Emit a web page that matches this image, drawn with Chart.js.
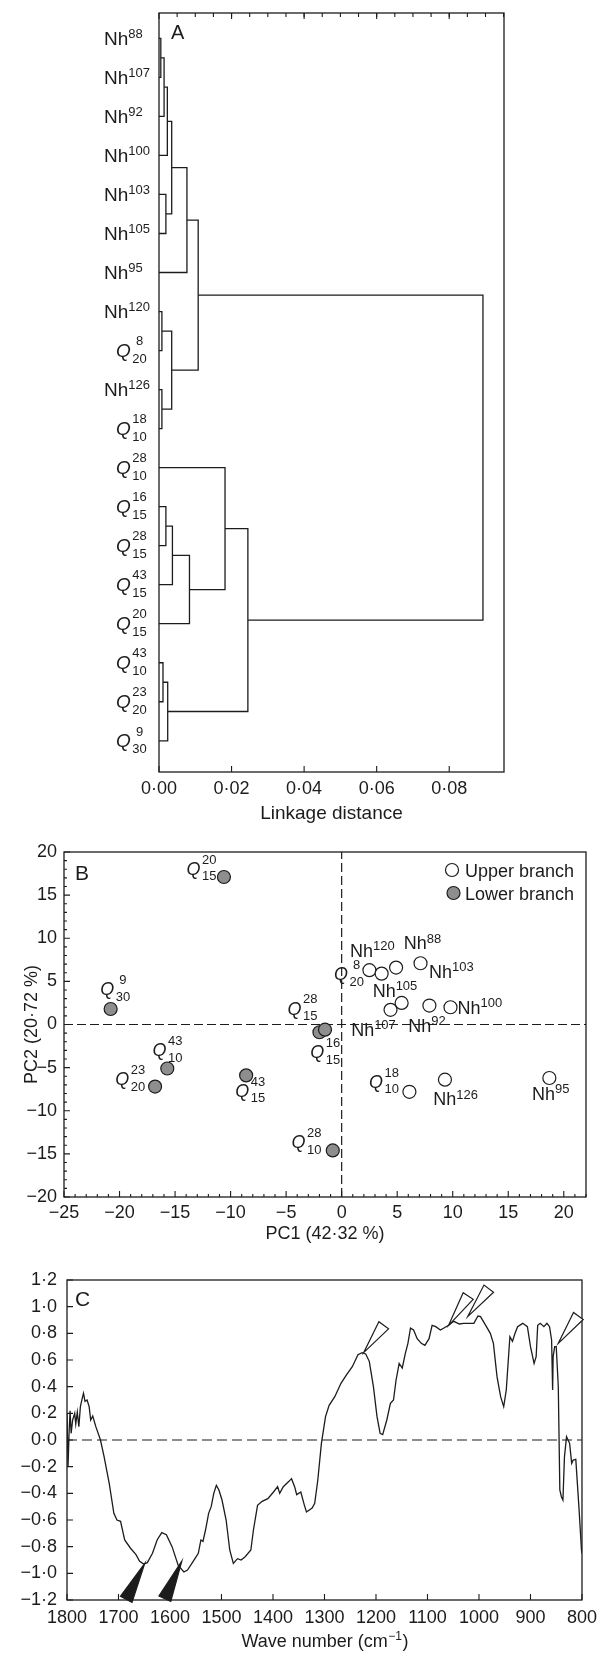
<!DOCTYPE html>
<html>
<head>
<meta charset="utf-8">
<title>Cluster tree, PCA scores and PC1 loadings</title>
<script src="https://cdn.jsdelivr.net/npm/chart.js@4.4.1/dist/chart.umd.min.js"></script>
<style>
  html, body { margin: 0; padding: 0; background: #fff; }
  #page { position: relative; width: 604px; height: 1659px; overflow: hidden; }
  canvas { position: absolute; left: 0; }
</style>
</head>
<body>
<div id="page">
  <canvas id="chartA" width="604" height="830" style="top:0"></canvas>
  <canvas id="chartB" width="604" height="420" style="top:830px"></canvas>
  <canvas id="chartC" width="604" height="409" style="top:1250px"></canvas>
</div>
<script>
var FONT = '"Liberation Sans", Arial, Helvetica, sans-serif';
var INK = '#1c1c1c';

// ---- A: tree diagram ----
var leafLabels = ['Nh^88', 'Nh^107', 'Nh^92', 'Nh^100', 'Nh^103', 'Nh^105', 'Nh^95', 'Nh^120', 'Q_20^8', 'Nh^126',
                  'Q_10^18', 'Q_10^28', 'Q_15^16', 'Q_15^28', 'Q_15^43', 'Q_15^20', 'Q_10^43', 'Q_20^23', 'Q_30^9'];
// joins: clusters numbered after the 19 leaves (19, 20, ...)
var joinLeft   = [0, 19, 20, 4, 21, 23, 7, 9, 25, 24, 12, 29, 30, 11, 16, 33, 32, 28];
var joinRight  = [1, 2, 3, 5, 22, 6, 8, 10, 26, 27, 13, 14, 15, 31, 17, 18, 34, 35];
var joinHeight = [0.0005, 0.0014, 0.0023, 0.0019, 0.0035, 0.0077, 0.0008, 0.0008, 0.0035, 0.0108,
                  0.0019, 0.0037, 0.0084, 0.0182, 0.0011, 0.0024, 0.0245, 0.0893];
var linkTicks = [0, 0.02, 0.04, 0.06, 0.08];

// ---- B: PCA scores ----
var upperNames = ['Q_20^8', 'Nh^120', 'Nh^88', 'Nh^103', 'Nh^105', 'Nh^107', 'Nh^92', 'Nh^100', 'Q_10^18', 'Nh^126', 'Nh^95'];
var upperPC1 = [2.5, 3.6, 4.9, 7.1, 5.4, 4.4, 7.9, 9.8, 6.1, 9.3, 18.7];
var upperPC2 = [6.3, 5.9, 6.6, 7.1, 2.5, 1.7, 2.2, 2.0, -7.8, -6.4, -6.2];
var lowerNames = ['Q_15^20', 'Q_30^9', 'Q_10^43', 'Q_20^23', 'Q_15^43', 'Q_15^28', 'Q_15^16', 'Q_10^28'];
var lowerPC1 = [-10.6, -20.8, -15.7, -16.8, -8.6, -2.0, -1.5, -0.8];
var lowerPC2 = [17.1, 1.8, -5.1, -7.2, -5.9, -0.9, -0.6, -14.6];
var pc1Ticks = [-25, -20, -15, -10, -5, 0, 5, 10, 15, 20];
var pc2Ticks = [-20, -15, -10, -5, 0, 5, 10, 15, 20];

// label placement next to each point (px from the point: left edge, baseline)
var upperLabelDx = [-35.5, -31.7, 7.7, 8.5, -29, -39.4, -21.2, 7, -40.5, -11.6, -17.4];
var upperLabelDy = [10, -17, -18.3, 14.7, -6.3, 25.7, 26.3, 6.3, -3.7, 25.3, 22];
var lowerLabelDx = [-37.5, -10.4, -14.7, -39.8, -10.8, -32, -14.7, -41.3];
var lowerLabelDy = [-2, -13.7, -12.3, -1.3, 21.3, -17.7, 28.7, -2];

// ---- C: PC1 loadings ----
var waveNumbers = [1800, 1798, 1796, 1794, 1792, 1789, 1785, 1783, 1780, 1777,
  1774, 1770, 1768, 1765, 1761, 1757, 1754, 1750, 1744, 1735,
  1728, 1718, 1709, 1703, 1696, 1688, 1677, 1666, 1659, 1651,
  1644, 1634, 1625, 1616, 1607, 1596, 1584, 1573, 1566, 1555,
  1545, 1540, 1536, 1531, 1525, 1520, 1515, 1510, 1505, 1499,
  1491, 1484, 1477, 1469, 1462, 1454, 1443, 1438, 1430, 1421,
  1410, 1399, 1391, 1387, 1380, 1369, 1364, 1358, 1354, 1346,
  1339, 1335, 1324, 1319, 1313, 1306, 1298, 1291, 1280, 1268,
  1257, 1246, 1235, 1227, 1220, 1213, 1205, 1198, 1192, 1187,
  1179, 1172, 1166, 1161, 1155, 1149, 1143, 1138, 1133, 1127,
  1120, 1112, 1105, 1097, 1091, 1084, 1075, 1068, 1059, 1049,
  1038, 1030, 1019, 1010, 1002, 997, 987, 978, 972, 965,
  958, 952, 947, 940, 935, 930, 925, 915, 906, 900,
  893, 889, 886, 881, 874, 868, 863, 859, 857, 856,
  853, 850, 846, 843, 840, 837, 834, 830, 824, 820,
  817, 812, 806, 801, 800];
var loadings = [0.2, -0.2, 0.05, 0.22, 0.05, 0.15, 0.2, 0.12, 0.21, 0.1,
  0.25, 0.32, 0.35, 0.29, 0.3, 0.25, 0.15, 0.18, 0.1, 0.0,
  -0.125, -0.325, -0.55, -0.6, -0.61, -0.75, -0.81, -0.86, -0.91, -0.93,
  -0.92, -0.85, -0.75, -0.695, -0.71, -0.8, -0.94, -0.99, -0.975, -0.91,
  -0.85, -0.75, -0.76, -0.675, -0.55, -0.5, -0.4, -0.34, -0.375, -0.45,
  -0.6, -0.825, -0.925, -0.89, -0.9, -0.875, -0.825, -0.675, -0.49, -0.46,
  -0.44, -0.39, -0.35, -0.4, -0.35, -0.31, -0.29, -0.35, -0.41, -0.39,
  -0.49, -0.54, -0.51, -0.475, -0.3, -0.025, 0.175, 0.26, 0.325, 0.425,
  0.49, 0.55, 0.64, 0.655, 0.645, 0.59, 0.4, 0.175, 0.05, 0.04,
  0.15, 0.275, 0.3, 0.45, 0.575, 0.54, 0.65, 0.725, 0.84, 0.825,
  0.76, 0.725, 0.71, 0.76, 0.86, 0.85, 0.825, 0.84, 0.86, 0.89,
  0.87, 0.875, 0.875, 0.875, 0.93, 0.925, 0.86, 0.8, 0.725, 0.475,
  0.325, 0.25, 0.375, 0.775, 0.74, 0.8, 0.85, 0.875, 0.85, 0.7,
  0.575, 0.625, 0.86, 0.875, 0.85, 0.875, 0.85, 0.75, 0.375, 0.625,
  0.7, 0.7, 0.4, -0.375, -0.425, -0.45, -0.125, 0.025, -0.025, -0.175,
  -0.15, -0.145, -0.5, -0.825, -0.85];
var waveTicks = [1800, 1700, 1600, 1500, 1400, 1300, 1200, 1100, 1000, 900, 800];
var loadTicks = [-1.2, -1, -0.8, -0.6, -0.4, -0.2, 0, 0.2, 0.4, 0.6, 0.8, 1, 1.2];
// arrowheads: [wave number, loading] of tip and of tail
var openArrowTip  = [[1224, 0.655], [1059, 0.86], [1022, 0.925], [846, 0.725]];
var openArrowTail = [[1185, 0.86], [1021, 1.08], [981, 1.135], [807, 0.93]];
var solidArrowTip  = [[1649, -0.925], [1577, -0.908]];
var solidArrowTail = [[1685, -1.195], [1610, -1.19]];

Chart.defaults.font.family = FONT;
Chart.defaults.color = INK;
Chart.defaults.animation = false;
Chart.defaults.plugins.legend.display = false;
Chart.defaults.plugins.tooltip.enabled = false;

function dotted(v, d) {
  var s = Math.abs(v).toFixed(d).replace('.', '\u00B7');
  return v < 0 ? '\u2212' + s : s;
}
function setTicks(values) {
  return function (s) { s.ticks = values.map(function (v) { return { value: v }; }); };
}
function fixW(w) { return function (s) { s.width = w; }; }
function fixH(h) { return function (s) { s.height = h; }; }

function axisOpts(extra) {
  var o = {
    type: 'linear',
    grid: { display: false, drawTicks: false },
    border: { display: false },
    ticks: { font: { size: 18 }, color: INK, autoSkip: false, maxRotation: 0 }
  };
  for (var k in extra) {
    if (k === 'ticks') { for (var t in extra.ticks) o.ticks[t] = extra.ticks[t]; }
    else o[k] = extra[k];
  }
  return o;
}

// "Nh^88" -> Nh with superscript, "Q_20^8" -> italic Q with stacked indices
function drawName(ctx, name, x, y, size, small) {
  var m = /^([A-Za-z]+)(?:_(\d+))?(?:\^(\d+))?$/.exec(name);
  var base = m[1], sub = m[2], sup = m[3];
  var italic = base === 'Q';
  ctx.fillStyle = INK;
  ctx.textBaseline = 'alphabetic';
  ctx.textAlign = 'left';
  ctx.font = (italic ? 'italic ' : '') + size + 'px ' + FONT;
  ctx.fillText(base, x, y);
  var x2 = x + ctx.measureText(base).width + (italic ? 1.5 : 0);
  ctx.font = small + 'px ' + FONT;
  if (sub) {
    var w = Math.max(ctx.measureText(sub).width, ctx.measureText(sup).width);
    ctx.textAlign = 'center';
    ctx.fillText(sup, x2 + w / 2, y - size * 0.62);
    ctx.fillText(sub, x2 + w / 2, y + size * 0.3);
  } else {
    ctx.fillText(sup, x2, y - size * 0.36);
  }
}

function tickMarks(ctx, chart, scale, values, edge, len) {
  var a = chart.chartArea;
  ctx.beginPath();
  values.forEach(function (v) {
    var p = scale.getPixelForValue(v);
    if (edge === 'bottom') { ctx.moveTo(p, a.bottom); ctx.lineTo(p, a.bottom - len); }
    if (edge === 'top') { ctx.moveTo(p, a.top); ctx.lineTo(p, a.top + len); }
    if (edge === 'left') { ctx.moveTo(a.left, p); ctx.lineTo(a.left + len, p); }
  });
  ctx.stroke();
}

function frame(ctx, chart) {
  var a = chart.chartArea;
  ctx.strokeStyle = INK;
  ctx.lineWidth = 1.3;
  ctx.strokeRect(a.left, a.top, a.right - a.left, a.bottom - a.top);
}

function plainText(ctx, str, x, y, size, align) {
  ctx.fillStyle = INK;
  ctx.font = size + 'px ' + FONT;
  ctx.textAlign = align || 'center';
  ctx.textBaseline = 'alphabetic';
  ctx.fillText(str, x, y);
}

// ---------- A ----------
var nodePos = [], nodeHeight = [];
for (var i = 0; i < leafLabels.length; i++) { nodePos.push(i); nodeHeight.push(0); }
var treeSets = [];
joinLeft.forEach(function (l, k) {
  var r = joinRight[k], h = joinHeight[k];
  treeSets.push({
    data: [{ x: nodeHeight[l], y: nodePos[l] }, { x: h, y: nodePos[l] },
           { x: h, y: nodePos[r] }, { x: nodeHeight[r], y: nodePos[r] }],
    showLine: true, pointRadius: 0, borderColor: INK, borderWidth: 1.3, fill: false
  });
  nodePos.push((nodePos[l] + nodePos[r]) / 2);
  nodeHeight.push(h);
});

new Chart(document.getElementById('chartA'), {
  type: 'scatter',
  data: { datasets: treeSets },
  options: {
    responsive: false,
    layout: { padding: { left: 159, right: 100, top: 13, bottom: 28 } },
    scales: {
      x: axisOpts({ min: 0, max: 0.0951, afterBuildTicks: setTicks(linkTicks), afterFit: fixH(30),
        ticks: { padding: 6, callback: function (v) { return dotted(v, 2); } } }),
      y: { type: 'linear', display: false, reverse: true, min: -0.65, max: 18.8 }
    }
  },
  plugins: [{
    id: 'panelA',
    afterDraw: function (chart) {
      var ctx = chart.ctx, a = chart.chartArea, xs = chart.scales.x, ys = chart.scales.y;
      ctx.save();
      frame(ctx, chart);
      ctx.lineWidth = 1.1;
      tickMarks(ctx, chart, xs, linkTicks, 'bottom', 6);
      var minor = [];
      for (var j = 1; j <= 19; j++) minor.push(j * 0.005);
      tickMarks(ctx, chart, xs, minor, 'top', 4);
      tickMarks(ctx, chart, xs, linkTicks, 'top', 6);
      leafLabels.forEach(function (name, j) {
        var py = ys.getPixelForValue(j);
        drawName(ctx, name, name.charAt(0) === 'Q' ? 116 : 104, py + 6.5, 19, 13);
      });
      plainText(ctx, 'A', 171, 38.5, 20, 'left');
      plainText(ctx, 'Linkage distance', (a.left + a.right) / 2, 819, 19);
      ctx.restore();
    }
  }]
});

// ---------- B ----------
function points(xs, ys) { return xs.map(function (x, j) { return { x: x, y: ys[j] }; }); }

new Chart(document.getElementById('chartB'), {
  type: 'scatter',
  data: {
    datasets: [
      { label: 'Upper branch', data: points(upperPC1, upperPC2), pointRadius: 6.5, borderWidth: 1.2,
        borderColor: INK, backgroundColor: '#ffffff', order: 1 },
      { label: 'Lower branch', data: points(lowerPC1, lowerPC2), pointRadius: 6.5, borderWidth: 1.2,
        borderColor: INK, backgroundColor: '#8e8e8e', order: 1 },
      { data: [{ x: 0, y: -20 }, { x: 0, y: 20 }], showLine: true, pointRadius: 0, borderColor: INK,
        borderWidth: 1.2, borderDash: [9, 4], order: 3 },
      { data: [{ x: -25, y: 0 }, { x: 22, y: 0 }], showLine: true, pointRadius: 0, borderColor: INK,
        borderWidth: 1.2, borderDash: [9, 4], order: 3 }
    ]
  },
  options: {
    responsive: false,
    layout: { padding: { left: 8, right: 18, top: 22, bottom: 23 } },
    scales: {
      x: axisOpts({ min: -25, max: 22, afterBuildTicks: setTicks(pc1Ticks), afterFit: fixH(30),
        ticks: { padding: 5, callback: function (v) { return dotted(v, 0); } } }),
      y: axisOpts({ min: -20, max: 20, afterBuildTicks: setTicks(pc2Ticks), afterFit: fixW(56),
        ticks: { padding: 7, callback: function (v) { return dotted(v, 0); } } })
    }
  },
  plugins: [{
    id: 'panelB',
    afterDraw: function (chart) {
      var ctx = chart.ctx, a = chart.chartArea, xs = chart.scales.x, ys = chart.scales.y;
      ctx.save();
      frame(ctx, chart);
      ctx.lineWidth = 1.1;
      var minorX = [], minorY = [];
      for (var v = -24; v <= 22; v++) if (v % 5) minorX.push(v);
      for (v = -19; v <= 19; v++) if (v % 5) minorY.push(v);
      tickMarks(ctx, chart, xs, minorX, 'bottom', 3);
      tickMarks(ctx, chart, xs, pc1Ticks, 'bottom', 6);
      tickMarks(ctx, chart, ys, minorY, 'left', 3);
      tickMarks(ctx, chart, ys, pc2Ticks, 'left', 6);

      upperNames.forEach(function (n, j) {
        drawName(ctx, n, xs.getPixelForValue(upperPC1[j]) + upperLabelDx[j],
          ys.getPixelForValue(upperPC2[j]) + upperLabelDy[j], 18, 13);
      });
      lowerNames.forEach(function (n, j) {
        drawName(ctx, n, xs.getPixelForValue(lowerPC1[j]) + lowerLabelDx[j],
          ys.getPixelForValue(lowerPC2[j]) + lowerLabelDy[j], 18, 13);
      });

      // legend
      [0, 1].forEach(function (j) {
        var ds = chart.data.datasets[j], cy = 40 + j * 23;
        ctx.beginPath();
        ctx.arc(452 + j * 1.5, cy, 6.5, 0, Math.PI * 2);
        ctx.fillStyle = ds.backgroundColor;
        ctx.fill();
        ctx.lineWidth = 1.2;
        ctx.strokeStyle = INK;
        ctx.stroke();
        plainText(ctx, ds.label, 465, cy + 6.5, 18, 'left');
      });

      plainText(ctx, 'B', 75, 50, 21, 'left');
      plainText(ctx, 'PC1 (42\u00B732 %)', (a.left + a.right) / 2, 409, 18);
      ctx.translate(37, ys.getPixelForValue(0));
      ctx.rotate(-Math.PI / 2);
      plainText(ctx, 'PC2 (20\u00B772 %)', 0, 0, 18);
      ctx.restore();
    }
  }]
});

// ---------- C ----------
function drawArrow(ctx, xs, ys, tip, tail, width, fill) {
  var tx = xs.getPixelForValue(tip[0]), ty = ys.getPixelForValue(tip[1]);
  var bx = xs.getPixelForValue(tail[0]), by = ys.getPixelForValue(tail[1]);
  var dx = bx - tx, dy = by - ty, len = Math.sqrt(dx * dx + dy * dy);
  var nx = -dy / len * width / 2, ny = dx / len * width / 2;
  ctx.beginPath();
  ctx.moveTo(tx, ty);
  ctx.lineTo(bx + nx, by + ny);
  ctx.lineTo(bx - nx, by - ny);
  ctx.closePath();
  ctx.fillStyle = fill;
  ctx.fill();
  ctx.stroke();
}

new Chart(document.getElementById('chartC'), {
  type: 'scatter',
  data: {
    datasets: [
      { data: points(waveNumbers, loadings), showLine: true, pointRadius: 0, borderColor: INK,
        borderWidth: 1.3, order: 1 },
      { data: [{ x: 1800, y: 0 }, { x: 800, y: 0 }], showLine: true, pointRadius: 0, borderColor: INK,
        borderWidth: 1.2, borderDash: [10, 5], order: 2 }
    ]
  },
  options: {
    responsive: false,
    layout: { padding: { left: 7, right: 20, top: 30, bottom: 29 } },
    scales: {
      x: axisOpts({ min: 800, max: 1800, reverse: true, afterBuildTicks: setTicks(waveTicks), afterFit: fixH(30),
        ticks: { padding: 7, callback: function (v) { return String(v); } } }),
      y: axisOpts({ min: -1.2, max: 1.2, afterBuildTicks: setTicks(loadTicks), afterFit: fixW(60),
        ticks: { padding: 10, callback: function (v) { return dotted(v, 1); } } })
    }
  },
  plugins: [{
    id: 'panelC',
    afterDraw: function (chart) {
      var ctx = chart.ctx, a = chart.chartArea, xs = chart.scales.x, ys = chart.scales.y;
      ctx.save();
      frame(ctx, chart);
      ctx.lineWidth = 1.1;
      tickMarks(ctx, chart, xs, waveTicks, 'bottom', 6);
      tickMarks(ctx, chart, ys, loadTicks, 'left', 6);

      ctx.lineWidth = 1.2;
      ctx.strokeStyle = INK;
      openArrowTip.forEach(function (t, j) { drawArrow(ctx, xs, ys, t, openArrowTail[j], 12, '#ffffff'); });
      solidArrowTip.forEach(function (t, j) { drawArrow(ctx, xs, ys, t, solidArrowTail[j], 13, INK); });

      plainText(ctx, 'C', 75, 56, 21, 'left');

      // axis title with superscript
      var main = 'Wave number (cm', sup = '\u22121', end = ')';
      ctx.font = '18px ' + FONT;
      var w1 = ctx.measureText(main).width, w3 = ctx.measureText(end).width;
      ctx.font = '12px ' + FONT;
      var w2 = ctx.measureText(sup).width;
      var x0 = (a.left + a.right) / 2 - (w1 + w2 + w3) / 2, yb = 397;
      plainText(ctx, main, x0, yb, 18, 'left');
      plainText(ctx, sup, x0 + w1 + 0.5, yb - 7, 12, 'left');
      plainText(ctx, end, x0 + w1 + w2 + 1, yb, 18, 'left');
      ctx.restore();
    }
  }]
});
</script>
</body>
</html>
